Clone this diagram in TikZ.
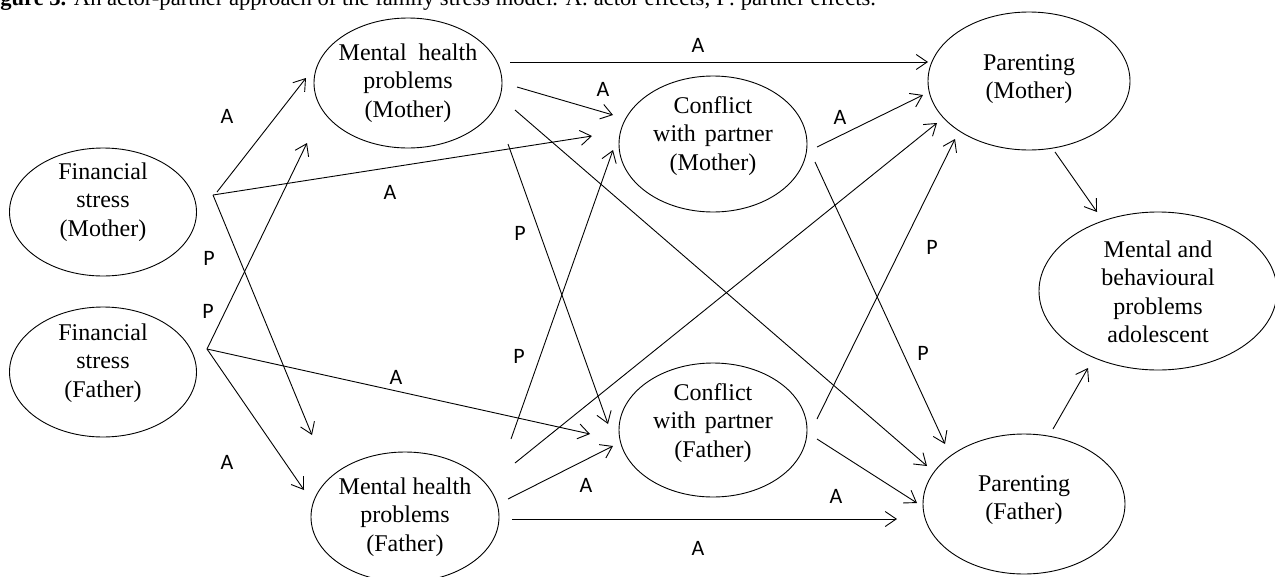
\documentclass[tikz,border=0pt]{standalone}
\usepackage{fontspec}
\setmainfont{Liberation Serif}
\newfontfamily\lblfont{Carlito}
\usetikzlibrary{shapes.geometric,arrows.meta}
\begin{document}
\begin{tikzpicture}[x=1pt,y=-1pt,
  ell/.style={ellipse,draw,line width=0.9pt,inner sep=0pt},
  txt/.style={align=center,font=\fontsize{24}{28.5}\selectfont,inner sep=0pt},
  arr/.style={line width=0.9pt,-{Straight Barb[length=11pt,width=15pt]}},
  lab/.style={font=\lblfont\fontsize{22}{26}\selectfont,inner sep=0pt}]
\useasboundingbox (0,0) rectangle (1275,576);
\clip (0,0) rectangle (1275,576);

% caption (cut at the top)
\node[anchor=base west,inner sep=0pt,font=\fontsize{22.6}{27}\selectfont] (cap) at (-20,5)
  {\textbf{Figure 3.} An actor-partner approach of the family stress model. A: actor effects; P: partner effects.};

% nodes
\node[ell,minimum width=187,minimum height=128,label={[txt,yshift=10]center:Financial\\stress\\(Mother)}] (FM) at (103,212) {};
\node[ell,minimum width=187,minimum height=130,label={[txt,yshift=9]center:Financial\\stress\\(Father)}] (FF) at (103,372) {};
\node[ell,minimum width=188,minimum height=130,label={[txt,yshift=0]center:Mental\hspace{6pt} health\\problems\\(Mother)}] (MM) at (408,83) {};
\node[ell,minimum width=188,minimum height=130,label={[txt,yshift=0]center:Mental health\\problems\\(Father)}] (MF) at (405,517) {};
\node[ell,minimum width=188,minimum height=136,label={[txt,yshift=8]center:Conflict\\with\hspace{3pt} partner\\(Mother)}] (CM) at (713,144) {};
\node[ell,minimum width=188,minimum height=134,label={[txt,yshift=7]center:Conflict\\with\hspace{3pt} partner\\(Father)}] (CF) at (713,430) {};
\node[ell,minimum width=202,minimum height=138,label={[txt,yshift=2]center:Parenting\\(Mother)}] (PM) at (1029,81) {};
\node[ell,minimum width=202,minimum height=140,label={[txt,yshift=4]center:Parenting\\(Father)}] (PF) at (1024,504) {};
\node[ell,minimum width=238,minimum height=158,label={[txt,yshift=-1]center:Mental and\\behavioural\\problems\\adolescent}] (MB) at (1158,291) {};

% connectors from Financial stress (Mother)
\coordinate (FMo) at ([shift={(110,-17)}]FM.center);
\draw[arr] ([shift={(114,-20)}]FM.center) -- ([shift={(-102,-5)}]MM.center);
\draw[arr] (FMo) -- ([shift={(-121,-8)}]CM.center);
\draw[arr] (FMo) -- ([shift={(-93,-82)}]MF.center);
% connectors from Financial stress (Father)
\coordinate (FFo) at ([shift={(104,-23)}]FF.center);
\draw[arr] (FFo) -- ([shift={(-101,60)}]MM.center);
\draw[arr] (FFo) -- ([shift={(-123,4)}]CF.center);
\draw[arr] (FFo) -- ([shift={(-101,-27)}]MF.center);
% from Mental health (Mother)
\draw[arr] ([shift={(102,-21)}]MM.center) -- ([shift={(-101,-19)}]PM.center);
\draw[arr] ([shift={(109,4)}]MM.center) -- ([shift={(-100,-29)}]CM.center);
\draw[arr] ([shift={(107,27)}]MM.center) -- ([shift={(-97,-38)}]PF.center);
\draw[arr] ([shift={(100,61)}]MM.center) -- ([shift={(-105,-6)}]CF.center);
% from Mental health (Father)
\draw[arr] ([shift={(106,-78)}]MF.center) -- ([shift={(-100,6)}]CM.center);
\draw[arr] ([shift={(110,-54)}]MF.center) -- ([shift={(-92,42)}]PM.center);
\draw[arr] ([shift={(103,-18)}]MF.center) -- ([shift={(-100,16)}]CF.center);
\draw[arr] ([shift={(107,2)}]MF.center) -- ([shift={(-127,15)}]PF.center);
% from Conflict (Mother)
\draw[arr] ([shift={(104,3)}]CM.center) -- ([shift={(-106,14)}]PM.center);
\draw[arr] ([shift={(102,18)}]CM.center) -- ([shift={(-79,-60)}]PF.center);
% from Conflict (Father)
\draw[arr] ([shift={(104,-11)}]CF.center) -- ([shift={(-74,58)}]PM.center);
\draw[arr] ([shift={(104,9)}]CF.center) -- ([shift={(-107,-1)}]PF.center);
% to adolescent
\draw[arr] ([shift={(26,71)}]PM.center) -- ([shift={(-61,-79)}]MB.center);
\draw[arr] ([shift={(29,-75)}]PF.center) -- ([shift={(-70,77)}]MB.center);

% effect labels
\node[lab] (a1) at (227,116) {A};
\node[lab] (a2) at (390,192) {A};
\node[lab] (p1) at (209,258) {P};
\node[lab] (p2) at (208,311) {P};
\node[lab] (a3) at (227,462) {A};
\node[lab] (a4) at (396,377) {A};
\node[lab] (a5) at (698,45) {A};
\node[lab] (a6) at (603,89) {A};
\node[lab] (p3) at (520,233) {P};
\node[lab] (p4) at (519,356) {P};
\node[lab] (a7) at (586,485) {A};
\node[lab] (a8) at (698,548) {A};
\node[lab] (a9) at (840,117) {A};
\node[lab] (p5) at (932,247) {P};
\node[lab] (p6) at (923,353) {P};
\node[lab] (a10) at (836,496) {A};
\end{tikzpicture}
\end{document}
